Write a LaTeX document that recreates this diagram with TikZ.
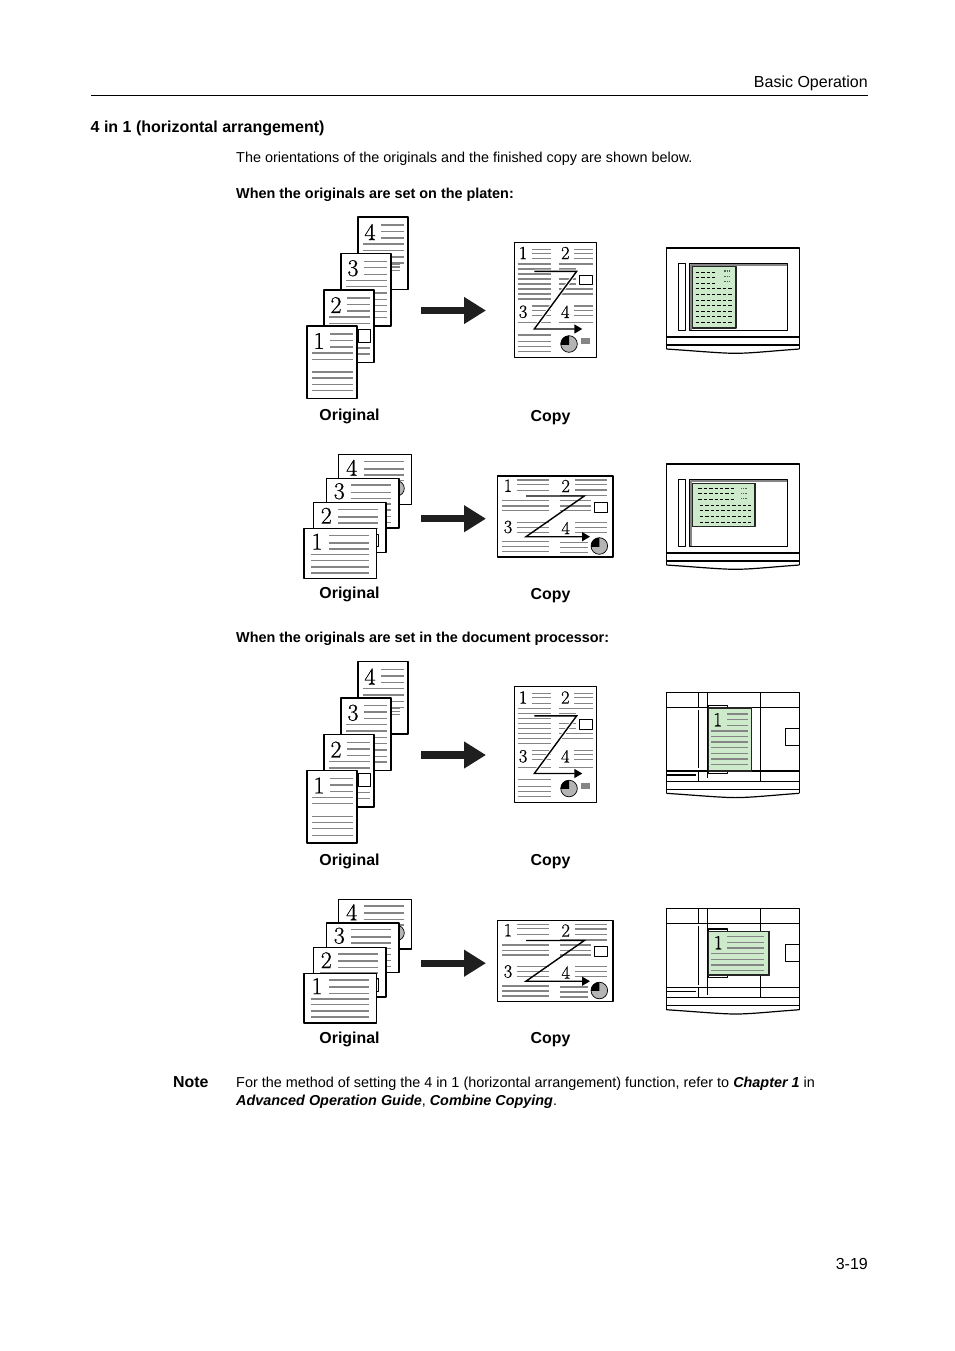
\documentclass[tikz,border=0pt]{standalone}
\usepackage{fontspec}
\setsansfont{Liberation Sans}
\newfontfamily\digitfont[FakeBold=.6]{Latin Modern Roman}
\usetikzlibrary{arrows.meta}
\definecolor{papergreen}{HTML}{CDEBCB}
\definecolor{textgrey}{HTML}{858585}
\definecolor{piegrey}{HTML}{B4B4B4}
\tikzset{
    sheet/.style={draw=black,fill=white,line width=1.4},
    thinsheet/.style={draw=black,fill=white,line width=1.1},
    textline/.style={draw=textgrey},
    digitbig/.style={inner sep=0pt,font=\digitfont\fontsize{24}{24}\selectfont},
    digitsmall/.style={inner sep=0pt,font=\digitfont\fontsize{18.5}{18.5}\selectfont},
    bodytext/.style={inner sep=0pt,anchor=base west,font=\sffamily\fontsize{14.4}{14.4}\selectfont},
    boldtext/.style={inner sep=0pt,anchor=base west,font=\sffamily\bfseries\fontsize{14.4}{14.4}\selectfont},
    headtext/.style={inner sep=0pt,anchor=base east,font=\sffamily\fontsize{16}{16}\selectfont},
    caption/.style={inner sep=0pt,anchor=base,font=\sffamily\bfseries\fontsize{15.9}{15.9}\selectfont},
    bigarrow/.style={draw=black!88,line width=7.3,-{Triangle[length=22,width=25.6]}},
    zline/.style={line width=1.4,line join=miter},
    panel/.style={draw=black,line width=1.15},
    paper/.style={draw=black!85,fill=papergreen,line width=1.3},
    dashrow/.style={draw=black,line width=.9,dash pattern=on 3.4pt off 2pt},
    fuzz/.style={draw=black!65,line width=1.1,dash pattern=on 1.2pt off 1pt},
}
% #1 name, #2 position, #3 digit, #4 heavy/light list, #5 extras
\newcommand{\portraitsheet}[5]{
    \begin{scope}[shift={(#2)}]
        \draw[sheet] (0,0) rectangle (50,72.5);
        \node[digitbig] (#1digit#3) at (12,15) {#3};
        \foreach \y/\w in {8/1.1,14.3/1.6,21/1.1}
        \draw[textline,line width=\w] (23,\y)--(45.7,\y);
        \foreach \y/\w in {#4}
        \draw[textline,line width=\w] (5,\y)--(45.7,\y);
        #5
    \end{scope}
}
\newcommand{\landscapesheet}[5]{
    \begin{scope}[shift={(#2)}]
        \draw[sheet] (0,0) rectangle (72.5,49.6);
        \node[digitbig] (#1digit#3) at (13,13) {#3};
        \foreach \y/\w in {6.7/1.6,14/1.6,20.3/1.6}
        \draw[textline,line width=\w] (25,\y)--(65,\y);
        \foreach \y/\w in {#4}
        \draw[textline,line width=\w] (6.7,\y)--(65,\y);
        #5
    \end{scope}
}
\newcommand{\piechart}[3]{
    \fill[piegrey] (#1,#2) circle[radius=#3pt];
    \begin{scope}
        \clip (#1-#3,#2-#3) rectangle (#1,#2);
        \fill[black] (#1,#2) circle[radius=#3pt];
    \end{scope}
    \draw[black,line width=.7] (#1,#2) circle[radius=#3pt];
}
\newcommand{\portraitstack}[1]{
    \portraitsheet{#1}{358,217}{4}{27/1.1,33.3/1.6,40/1.6,46/1.1}{
        \foreach \y in {47,50,53.3}
        \draw[textline,line width=1.2] (25,\y)--(42,\y);}
    \portraitsheet{#1}{341,253.3}{3}{27/1.1,33.3/1.6,39.7/1.6,46/1.1,52.3/1.6,58.3/1.1,64/1.6}{}
    \portraitsheet{#1}{324,290}{2}{27/1.6,33.3/1.6,58/1.1,64/1.1}{
        \draw[black,line width=.9] (34.7,39) rectangle (46,52);}
    \portraitsheet{#1}{307,326}{1}{27/1.6,33.3/1.1,46/1.6,52/1.1,58.3/1.1,64.7/1.1}{}
}
\newcommand{\landscapestack}[1]{
    \landscapesheet{#1}{338.7,454.7}{4}{25.7/1.6,31.7/1.6}{\piechart{58}{33.7}{7.6}}
    \landscapesheet{#1}{326.3,478.3}{3}{25.7/1.6,31.7/1.6,38/1.1,44/1.1}{}
    \landscapesheet{#1}{313.3,502.7}{2}{25.7/1.6,31.7/1.6}{
        \draw[black,line width=.9] (53,31.7) rectangle (65.3,44);}
    \landscapesheet{#1}{304,528.7}{1}{25.7/1.6,31.7/1.1,38/1.6,44/1.6}{}
}
\newcommand{\portraitcopy}[1]{
    \begin{scope}[shift={(514.3,242.3)}]
        \draw[thinsheet] (0,0) rectangle (82.5,115.5);
        \foreach \x/\y/\nx in {8.8/10.7/1,51/10.7/2,8.8/69.5/3,51/69.5/4}
        \node[digitsmall] (#1copy\nx) at (\x,\y) {\nx};
        \foreach \x in {18,60}
        \foreach \y in {7,11,16.3,63.7,68,73}
        \draw[textline,line width=1.2] (\x,\y)--(\x+18.7,\y);
        \foreach \y in {21.7,26.7,31.7,36.7,41.7,46.7,51.7,56.7,80.3,92.7,99.3,104.3,109.3}
        \draw[textline,line width=1.2] (3.3,\y)--(36.7,\y);
        \foreach \y/\xe in {21.7/78.7,26.7/62,36.7/62,41.7/62,46.7/78.7,51.7/78.7,80.3/78.7}
        \draw[textline,line width=1.2] (45,\y)--(\xe,\y);
        \draw[thinsheet,line width=.8] (64.7,32.7) rectangle (78.3,42.4);
        \piechart{54.7}{101.7}{8.3}
        \fill[textgrey] (66.7,95.7) rectangle (75.7,101.7);
        \coordinate (#1za) at (20,29);
        \coordinate (#1zb) at (62.4,29);
        \coordinate (#1zc) at (20,86.7);
        \coordinate (#1zd) at (68,86.7);
        \draw[white,line width=3.2] (#1za)--(#1zb)--(#1zc)--(#1zd);
        \draw[zline,-{Triangle[length=8,width=9]}] (#1za)--(#1zb)--(#1zc)--(#1zd);
    \end{scope}
}
\newcommand{\landscapecopy}[1]{
    \begin{scope}[shift={(497.3,476)}]
        \draw[thinsheet] (0,0) rectangle (115.7,81);
        \foreach \x/\y/\nx in {10.7/9.7/1,68.4/10/2,10.7/51/3,68.4/52/4}
        \node[digitsmall] (#1copy\nx) at (\x,\y) {\nx};
        \foreach \y/\w in {4/1.2,8.3/.9,14/.9,46.3/1.2,51.3/1.2,56.3/1.2}
        \draw[textline,line width=\w] (19.3,\y)--(51.7,\y);
        \foreach \y/\w in {4/1.5,8.3/1.5,14/1.5,46.3/.9,51.3/1.2,56.3/.9}
        \draw[textline,line width=\w] (77.7,\y)--(109.3,\y);
        \foreach \y/\w in {24.7/1.5,30/1.5,34.7/1.5,65.7/1.5,70.7/1.5,75.7/1.5}
        \draw[textline,line width=\w] (5,\y)--(51.7,\y);
        \foreach \y/\xe in {19.7/109.3,24.7/93.7,30/93.7,34.7/93.7,66.7/91,71.7/91,76.7/91}
        \draw[textline,line width=1.5] (62.7,\y)--(\xe,\y);
        \draw[thinsheet,line width=.8] (97,26.3) rectangle (110.4,36.3);
        \piechart{102}{70}{8.3}
        \coordinate (#1za) at (28.7,20);
        \coordinate (#1zb) at (87,20);
        \coordinate (#1zc) at (28.7,60.7);
        \coordinate (#1zd) at (92.7,60.7);
        \draw[zline,-{Triangle[length=8,width=9]}] (#1za)--(#1zb)--(#1zc)--(#1zd);
    \end{scope}
}
% panel body shared by all four views, origin at the top left corner
\newcommand{\panelbody}{
    \draw[panel] (0,101)--(0,0)--(133,0)--(133,101);
    \draw[panel] (0,89)--(133,89);
    \draw[panel,line width=1.4] (0,97)--(133,97);
    \draw[panel,line width=1.2] (0,101) .. controls (30,103) and (55,105.3) .. (69,105.3) .. controls (85,105.3) and (105,103) .. (133,101);
}
\newcommand{\platenbody}{
    \panelbody
    \draw[panel] (12,15.6) rectangle (19,82.3);
    \draw[panel] (23.4,15.8) rectangle (121,82.3);
    \draw[textgrey,line width=1.6] (24.6,82)--(24.6,17)--(120.5,17);
}
\newcommand{\feederbody}[1]{ % #1 lower rule
    \panelbody
    \draw[panel] (0,15)--(133,15);
    \draw[panel] (0,#1)--(133,#1);
    \draw[panel] (0,#1+4)--(29.4,#1+4);
    \draw[panel] (32,0)--(32,15);
    \draw[panel] (32,17.6)--(32,#1-2.6);
    \draw[panel] (32,#1)--(32,89);
    \draw[panel] (41,0)--(41,85.8);
    \draw[panel] (94,0)--(94,89);
    \draw[panel] (119,36)--(133,36)--(133,53)--(119,53)--cycle;
}
\begin{document}
\begin{tikzpicture}[line join=round,line cap=butt,>=stealth,x=1pt,y=-1pt]
    \useasboundingbox (0,0) rectangle (954,1351);
    \fill[white] (0,0) rectangle (954,1351);
    % page head
    \node[headtext] (head) at (868,88) {Basic Operation};
    \draw[black,line width=.8] (91,95.6)--(868,95.6);
    \node[boldtext,font=\sffamily\bfseries\fontsize{16}{16}\selectfont] (title) at (90.5,133) {4 in 1 (horizontal arrangement)};
    \node[bodytext] (intro) at (236,162.5) {The orientations of the originals and the finished copy are shown below.};
    \node[boldtext] (platenhead) at (236,198) {When the originals are set on the platen:};
    \node[boldtext] (feederhead) at (236,642) {When the originals are set in the document processor:};
    % rows on the platen
    \portraitstack{a}
    \coordinate (aleft) at (421,310.5);
    \coordinate (aright) at (486,310.5);
    \draw[bigarrow] (aleft)--(aright);
    \portraitcopy{a}
    \node[caption] (aorig) at (349.5,420) {Original};
    \node[caption] (acopy) at (550.5,421) {Copy};
    \landscapestack{b}
    \coordinate (bleft) at (421,518.7);
    \coordinate (bright) at (486,518.7);
    \draw[bigarrow] (bleft)--(bright);
    \landscapecopy{b}
    \node[caption] (borig) at (349.5,598) {Original};
    \node[caption] (bcopy) at (550.5,599) {Copy};
    \begin{scope}[shift={(666.3,248)}]
        \platenbody
        \draw[paper] (26,18.7) rectangle (69.7,80);
        \draw[black!85,line width=1.6] (26,18.7)--(26,80)--(69.7,80);
        \foreach \y in {24,29.7,35}
        \draw[dashrow] (29.4,\y)--(50.4,\y);
        \foreach \y in {40.7,46.3,52,57.7,63,68.7,74}
        \draw[dashrow] (29.4,\y)--(66,\y);
        \foreach \y in {23,28.7,33.7}
        \draw[fuzz] (58,\y)--(64,\y);
    \end{scope}
    \begin{scope}[shift={(666.3,464)}]
        \platenbody
        \draw[paper] (26,19.3) rectangle (88.4,62.3);
        \draw[black!85,line width=1.6] (88.4,19.3)--(88.4,62.3)--(26,62.3);
        \foreach \y in {24.3,29.7,35}
        \draw[dashrow] (32,\y)--(68.7,\y);
        \foreach \y in {41.3,46.7,52.3,58.3}
        \draw[dashrow] (33.4,\y)--(84.7,\y);
        \foreach \y in {24.3,29.3,34.7}
        \draw[fuzz] (74.7,\y)--(80.7,\y);
    \end{scope}
    % rows in the document processor
    \begin{scope}[shift={(0,444.5)}]
        \portraitstack{c}
        \coordinate (cleft) at (421,310.5);
        \coordinate (cright) at (486,310.5);
        \draw[bigarrow] (cleft)--(cright);
        \portraitcopy{c}
    \end{scope}
    \node[caption] (corig) at (349.5,865) {Original};
    \node[caption] (ccopy) at (550.5,865) {Copy};
    \begin{scope}[shift={(0,444.5)}]
        \landscapestack{d}
        \coordinate (dleft) at (421,518.7);
        \coordinate (dright) at (486,518.7);
        \draw[bigarrow] (dleft)--(dright);
        \landscapecopy{d}
    \end{scope}
    \node[caption] (dorig) at (349.5,1043) {Original};
    \node[caption] (dcopy) at (550.5,1043) {Copy};
    \begin{scope}[shift={(666.3,692.3)}]
        \feederbody{78.7}
        \draw[panel] (42,15)--(42,13)--(61.5,13)--(61.5,15);
        \draw[panel] (42,78.7)--(42,81)--(61.5,81)--(61.5,78.7);
        \draw[paper] (42,16) rectangle (85.4,78.7);
        \draw[black!85,line width=1.8] (42,16)--(85.4,16) (42,78.7)--(85.4,78.7);
        \node[digitsmall,font=\digitfont\fontsize{20}{20}\selectfont] (cpaper1) at (51.4,27.4) {1};
        \foreach \y in {21.7,27.4,33}
        \draw[textline,line width=1.5] (61,\y)--(81.7,\y);
        \foreach \y/\w in {38.7/1.5,44.4/1.1,49.7/1.5,55.4/1.1,61/1.5,66.7/1.1,72.4/1.5}
        \draw[textline,line width=\w] (44.7,\y)--(81.7,\y);
    \end{scope}
    \begin{scope}[shift={(666.3,908.7)}]
        \feederbody{78.6}
        \draw[panel] (42,22.6)--(42,20.3)--(61.5,20.3)--(61.5,22.6);
        \draw[panel] (42,66.3)--(42,68.6)--(61.5,68.6)--(61.5,66.3);
        \draw[paper] (42,22.6) rectangle (103,66.3);
        \draw[black!85,line width=1.7] (103,22.6)--(103,66.3)--(42,66.3);
        \node[digitsmall,font=\digitfont\fontsize{20}{20}\selectfont] (dpaper1) at (52,34) {1};
        \foreach \y/\w in {28/1.5,33.6/1.1,39.3/1.5}
        \draw[textline,line width=\w] (61,\y)--(97.4,\y);
        \foreach \y/\w in {45/1.5,50.6/1.1,56.3/1.5,62/1.1}
        \draw[textline,line width=\w] (44.7,\y)--(97.4,\y);
    \end{scope}
    % note and folio
    \node[caption,anchor=base west] (notehead) at (173,1087) {Note};
    \node[bodytext] (notea) at (236,1087) {For the method of setting the 4 in 1 (horizontal arrangement) function, refer to \textbf{\textit{Chapter 1}} in};
    \node[bodytext] (noteb) at (236,1105) {\textbf{\textit{Advanced Operation Guide}}, \textbf{\textit{Combine Copying}}.};
    \node[headtext] (folio) at (868,1269) {3-19};
\end{tikzpicture}
\end{document}
